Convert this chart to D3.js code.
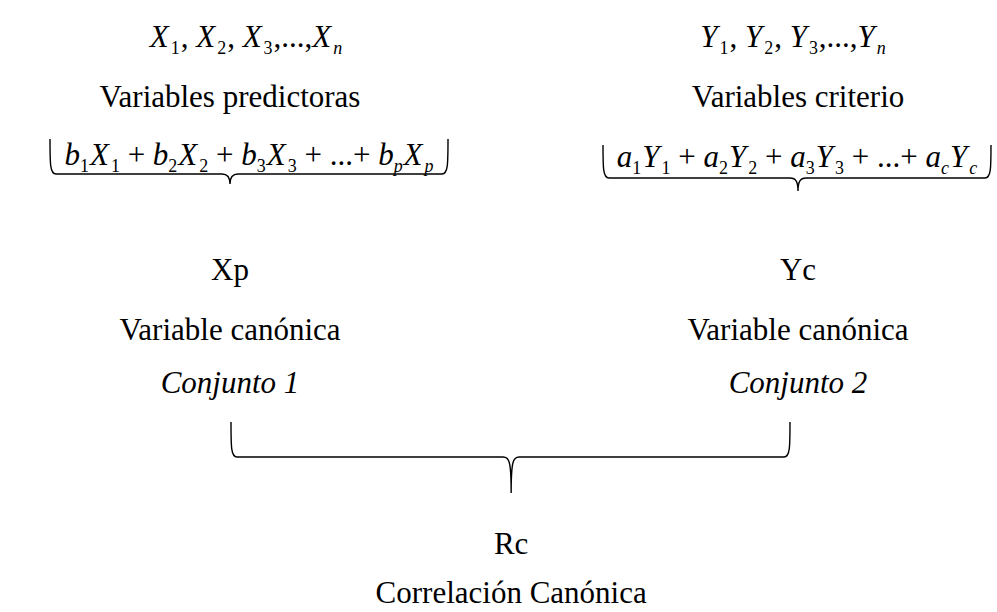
<!DOCTYPE html>
<html>
<head>
<meta charset="utf-8">
<script src="https://cdn.jsdelivr.net/npm/d3@7"></script>
<style>
    body { margin: 0; background: #fff; }
</style>
</head>
<body>
<div id="diagram"></div>
<script>
// the two sets of variables
var setNames = ["Conjunto 1", "Conjunto 2"];
var setVars = ["X", "Y"];
var setSubs = [["1", "2", "3", "n"], ["1", "2", "3", "n"]];
var setCoefs = ["b", "a"];
var setCoefSubs = [["1", "2", "3", "p"], ["1", "2", "3", "c"]];
var setTitles = ["Variables predictoras", "Variables criterio"];
var canonVars = ["Xp", "Yc"];
var canonLabel = "Variable canónica";
var resultVar = "Rc";
var resultLabel = "Correlación Canónica";

var width = 997, height = 612;
var fontSize = 31;
var serif = "'Liberation Serif', 'Times New Roman', Times, 'DejaVu Serif', serif";

var svg = d3.select('#diagram').append('svg')
    .attr('width', width)
    .attr('height', height)
    .attr('font-family', serif)
    .style('font-family', serif);

// column positions: 0 = set 1, 1 = set 2
var xScale = d3.scaleLinear()
    .domain([0, 1])
    .range([230, 798]);

// row baselines
var row = { vars: 47, title: 107, formula: 165, canon: 280, label: 340, set: 393, result: 554, resultLabel: 603 };
var listShift = [16, -5];

function isDigit(s) { return /^[0-9]$/.test(s); }

// writes a token list as tspans, subscripts smaller and lowered
function mathText(g, x, y, tokens, size) {
    var t = g.append('text')
        .attr('x', x)
        .attr('y', y)
        .attr('text-anchor', 'middle')
        .attr('font-family', serif)
        .style('font-size', size + 'px');
    var shifted = 0;
    tokens.forEach(function(d) {
        var dy = 0;
        if (d.sub && !shifted) { dy = size * 0.22; shifted = 1; }
        else if (!d.sub && shifted) { dy = -size * 0.22; shifted = 0; }
        t.append('tspan')
            .attr('dy', dy)
            .attr('dx', d.dx || 0)
            .style('font-style', d.italic ? 'italic' : 'normal')
            .style('font-size', d.sub ? (size * 0.58) + 'px' : size + 'px')
            .text(d.t);
    });
    return t;
}

function varList(v, subs) {
    var tokens = [];
    subs.forEach(function(s, i) {
        if (i == subs.length - 1) tokens.push({ t: ',...,', italic: false, dx: 1 });
        else if (i > 0) tokens.push({ t: ', ', italic: false, dx: 1 });
        tokens.push({ t: v, italic: true });
        tokens.push({ t: s, italic: !isDigit(s), sub: true, dx: 2 });
    });
    return tokens;
}

function combo(c, v, subs, vsubs) {
    var tokens = [];
    subs.forEach(function(s, i) {
        if (i == subs.length - 1) tokens.push({ t: ' + ...+ ', italic: false });
        else if (i > 0) tokens.push({ t: ' + ', italic: false });
        tokens.push({ t: c, italic: true });
        tokens.push({ t: s, italic: !isDigit(s), sub: true });
        tokens.push({ t: v, italic: true, dx: 1 });
        tokens.push({ t: vsubs[i], italic: !isDigit(vsubs[i]), sub: true, dx: 2 });
    });
    return tokens;
}

// horizontal brace, tips up, cusp down at xc
function brace(x0, x1, xc, yTip, yLine, yCusp) {
    var r = 6, p = d3.path();
    p.moveTo(x0, yTip);
    p.bezierCurveTo(x0, yLine - 10, x0, yLine, x0 + r, yLine);
    p.lineTo(xc - 8, yLine);
    p.bezierCurveTo(xc - 2, yLine, xc, yLine + 4, xc, yCusp);
    p.bezierCurveTo(xc, yLine + 4, xc + 2, yLine, xc + 8, yLine);
    p.lineTo(x1 - r, yLine);
    p.bezierCurveTo(x1, yLine, x1, yLine - 10, x1, yTip);
    return p.toString();
}

var topBraces = [
    { x0: 50, x1: 448, xc: 230, tip: 139, line: 174, cusp: 184 },
    { x0: 603, x1: 991, xc: 798, tip: 145, line: 178, cusp: 191 }
];

function label(g, x, y, txt, italic) {
    return g.append('text')
        .attr('x', x).attr('y', y)
        .attr('text-anchor', 'middle')
        .attr('font-family', serif)
        .style('font-size', fontSize + 'px')
        .style('font-style', italic ? 'italic' : 'normal')
        .text(txt);
}

var cols = svg.selectAll('g.col')
    .data(setNames)
    .enter().append('g')
    .attr('class', 'col');

cols.each(function(name, i) {
    var g = d3.select(this);
    var cx = xScale(i);
    var b = topBraces[i];
    mathText(g, cx + listShift[i], row.vars, varList(setVars[i], setSubs[i]), fontSize);
    label(g, cx, row.title, setTitles[i]);
    mathText(g, (b.x0 + b.x1) / 2, row.formula + (i ? 2 : 0),
        combo(setCoefs[i], setVars[i], setCoefSubs[i], setCoefSubs[i]), fontSize);
    g.append('path')
        .attr('d', brace(b.x0, b.x1, b.xc, b.tip, b.line, b.cusp))
        .attr('fill', 'none')
        .attr('stroke', '#000')
        .attr('stroke-width', 1.4);
    label(g, cx, row.canon, canonVars[i]);
    label(g, cx, row.label, canonLabel);
    label(g, cx, row.set, name, true);
});

// bottom brace joining both sets
var mid = xScale(0.495);
svg.append('path')
    .attr('d', brace(xScale(0) + 1, xScale(1) - 8, mid, 422, 457, 493))
    .attr('fill', 'none')
    .attr('stroke', '#000')
    .attr('stroke-width', 1.4);

label(svg, mid, row.result, resultVar);
label(svg, mid, row.resultLabel, resultLabel);
</script>
</body>
</html>
